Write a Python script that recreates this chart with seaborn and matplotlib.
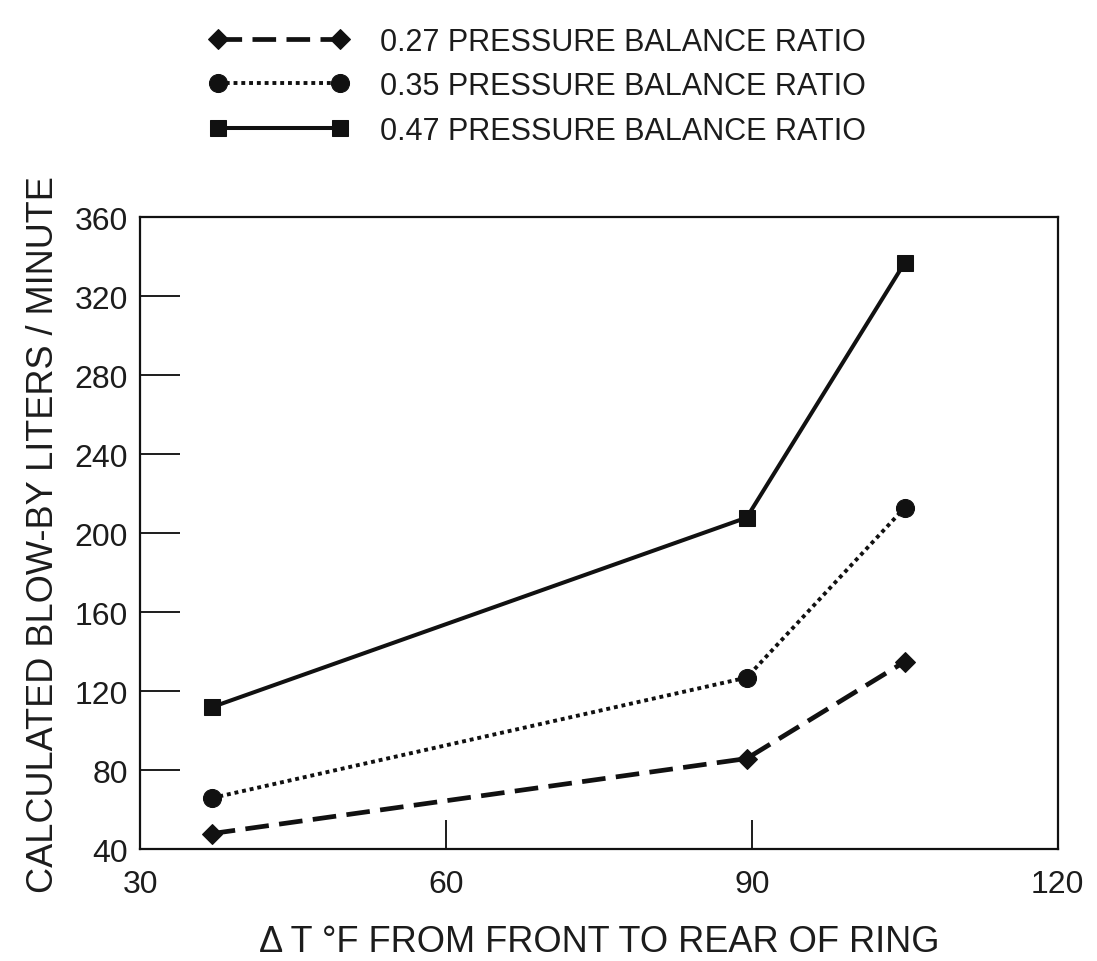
import matplotlib
matplotlib.use("Agg")
import matplotlib.pyplot as plt
import seaborn as sns
import pandas as pd

# data
delta_t = [37, 89.5, 105]
ratio_027 = [48, 86, 135]
ratio_035 = [66, 127, 213]
ratio_047 = [112, 208, 337]
series_labels = ["0.27 PRESSURE BALANCE RATIO",
                 "0.35 PRESSURE BALANCE RATIO",
                 "0.47 PRESSURE BALANCE RATIO"]
x_ticks = [30, 60, 90, 120]
y_ticks = [40, 80, 120, 160, 200, 240, 280, 320, 360]

TXT = "#1c1c1c"
sns.set_theme(style="white")
plt.rcParams['font.family'] = ['Liberation Sans', 'DejaVu Sans']
plt.rcParams['text.color'] = TXT
plt.rcParams['axes.labelcolor'] = TXT
plt.rcParams['xtick.color'] = TXT
plt.rcParams['ytick.color'] = TXT

fig = plt.figure(figsize=(10.97, 9.62), dpi=100)
ax = fig.add_axes([0.128, 0.116, 0.836, 0.657])

df = pd.DataFrame({"x": delta_t, "a": ratio_027, "b": ratio_035, "c": ratio_047})

sns.lineplot(data=df, x="x", y="a", ax=ax, color="#111111", lw=3.4,
             marker="D", markersize=10, markeredgecolor="#111111",
             label=series_labels[0])
sns.lineplot(data=df, x="x", y="b", ax=ax, color="#111111", lw=2.8,
             marker="o", markersize=13, markeredgecolor="#111111",
             label=series_labels[1])
sns.lineplot(data=df, x="x", y="c", ax=ax, color="#111111", lw=2.9,
             marker="s", markersize=12, markeredgecolor="#111111",
             label=series_labels[2])
lines = ax.get_lines()
lines[0].set_linestyle((0, (5, 2.2)))
lines[0].set_dash_capstyle("butt")
lines[1].set_linestyle((0, (1, 1.0)))
lines[1].set_dash_capstyle("butt")
lines[2].set_linestyle("-")

ax.set_xlim(30, 120)
ax.set_ylim(40, 360)
ax.set_xticks(x_ticks)
ax.set_yticks(y_ticks)
ax.set_xticklabels([str(v) for v in x_ticks], fontsize=23)
ax.set_yticklabels([str(v) for v in y_ticks], fontsize=23)
ax.tick_params(axis="y", direction="in", length=29, width=1.4, pad=9, left=True)
ax.tick_params(axis="x", direction="in", length=21, width=1.4, pad=14, bottom=True)
for s in ax.spines.values():
    s.set_color("#111111")
    s.set_linewidth(1.6)

ax.set_xlabel("\u0394 T \u00b0F FROM FRONT TO REAR OF RING", fontsize=26, labelpad=18)
ax.set_ylabel("CALCULATED BLOW-BY LITERS / MINUTE", fontsize=26, labelpad=10)

handles, labels = ax.get_legend_handles_labels()
ax.legend_.remove()
fig.legend(handles, labels, loc="upper left", bbox_to_anchor=(0.165, 1.0),
           frameon=False, fontsize=22, handlelength=4.6, numpoints=2,
           labelspacing=0.48, handletextpad=1.0)

fig.savefig("out.png", dpi=100, facecolor="white")
